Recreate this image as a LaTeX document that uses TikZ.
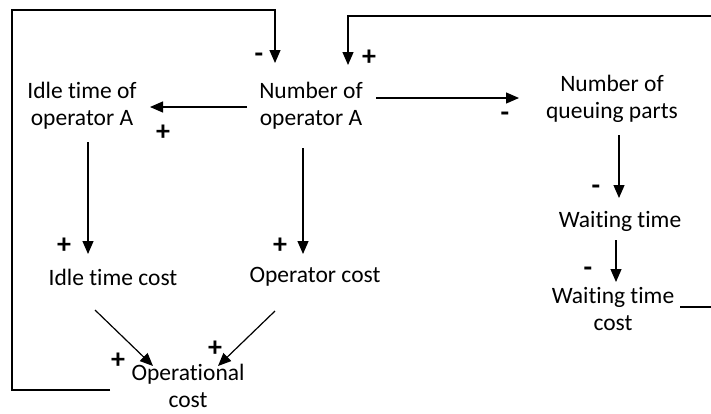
\documentclass[tikz,border=0pt]{standalone}
\usepackage{fontspec}
\setmainfont[Ligatures={NoCommon}]{Carlito}
\usetikzlibrary{arrows.meta}
\tikzset{
  lbl/.style={align=center, inner sep=0pt, font=\fontsize{23.5}{27}\selectfont},
  sgn/.style={inner sep=0pt, font=\fontsize{28}{28}\selectfont\bfseries},
  conn/.style={line width=1.2pt, -{Triangle[length=13pt,width=11pt]}},
}
\begin{document}
\begin{tikzpicture}[x=1pt,y=-1pt]
\useasboundingbox (0,0) rectangle (711,413);
% text nodes
\node[lbl] (idle) at (82,106) {Idle time of\\operator A};
\node[lbl] (numop) at (311,106) {Number of\\operator A};
\node[lbl] (queue) at (612,99) {Number of\\queuing parts};
\node[lbl] (wait) at (620,221) {Waiting time};
\node[lbl] (waitc) at (613,309) {Waiting time\\cost};
\node[lbl] (idlec) at (113,277) {Idle time cost};
\node[lbl] (opc) at (315,277) {Operator cost};
\node[lbl] (operc) at (188,386) {Operational\\cost};
% connector endpoints
\coordinate (a1) at (247,107); \coordinate (a2) at (150,107);
\coordinate (b1) at (376,98);  \coordinate (b2) at (519,98);
\coordinate (c1) at (619,135); \coordinate (c2) at (619,198);
\coordinate (d1) at (616,240); \coordinate (d2) at (616,282);
\coordinate (e1) at (88,142);  \coordinate (e2) at (88,254);
\coordinate (f1) at (303,148); \coordinate (f2) at (303,254);
\coordinate (g1) at (95,310);  \coordinate (g2) at (153,366);
\coordinate (h1) at (275,311); \coordinate (h2) at (218,366);
\coordinate (l1) at (110,390); \coordinate (l2) at (12,390);
\coordinate (l3) at (12,10);   \coordinate (l4) at (275,10);
\coordinate (l5) at (275,63);
\coordinate (r1) at (680,307); \coordinate (r2) at (714,307);
\coordinate (r3) at (714,16);  \coordinate (r4) at (348,16);
\coordinate (r5) at (348,65);
% connectors
\draw[conn] (a1) -- (a2);
\draw[conn] (b1) -- (b2);
\draw[conn] (c1) -- (c2);
\draw[conn] (d1) -- (d2);
\draw[conn] (e1) -- (e2);
\draw[conn] (f1) -- (f2);
\draw[conn] (g1) -- (g2);
\draw[conn] (h1) -- (h2);
\draw[conn] (l1) -- (l2) -- (l3) -- (l4) -- (l5);
\draw[conn] (r1) -- (r2) -- (r3) -- (r4) -- (r5);
% signs
\node[sgn] (s1) at (259,58) {-};
\node[sgn] (s2) at (369,58) {+};
\node[sgn] (s3) at (163,133) {+};
\node[sgn] (s4) at (505,117) {-};
\node[sgn] (s5) at (596,190) {-};
\node[sgn] (s6) at (588,272) {-};
\node[sgn] (s7) at (64,246) {+};
\node[sgn] (s8) at (280,246) {+};
\node[sgn] (s9) at (118,361) {+};
\node[sgn] (s10) at (215,349) {+};
\end{tikzpicture}
\end{document}
